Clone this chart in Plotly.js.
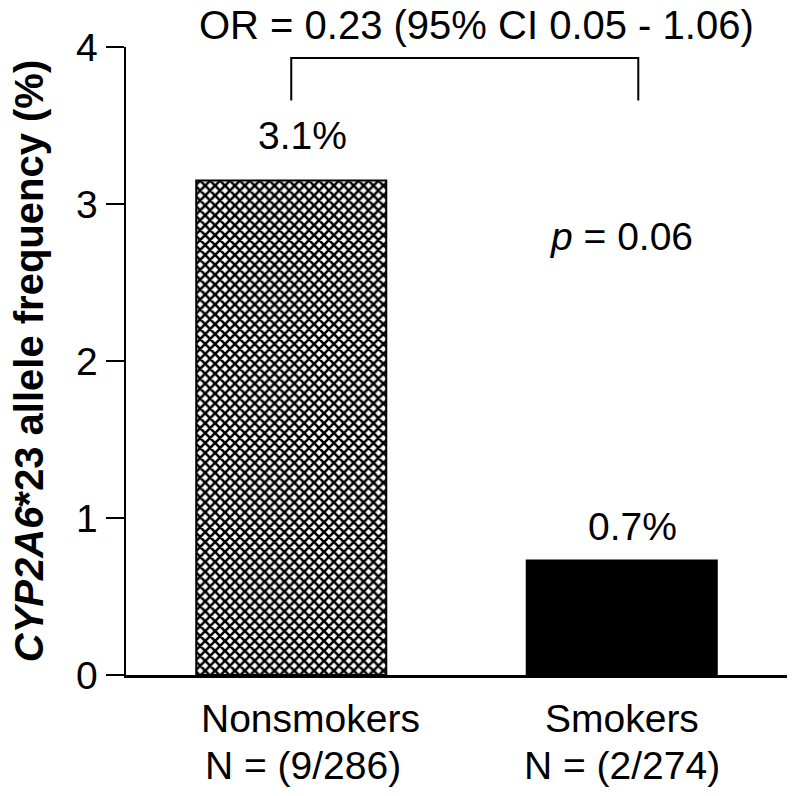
<!DOCTYPE html>
<html>
<head>
<meta charset="utf-8">
<script src="https://cdn.plot.ly/plotly-3.0.1.min.js"></script>
<style>html,body{margin:0;padding:0;background:#fff;}#chart{width:800px;height:796px;}</style>
</head>
<body>
<div id="chart"></div>
<script>
// ---- data ----
const categories = ['Nonsmokers', 'Smokers'];
const sampleLabels = ['N = (9/286)', 'N = (2/274)'];
const frequencies = [3.15, 0.73];
const yTickValues = [0, 1, 2, 3, 4];
const oddsRatioText = 'OR = 0.23 (95% CI 0.05 - 1.06)';
const pValueText = '<i>p</i> = 0.06';

// ---- styling ----
const FONT = 'Liberation Sans, Arial, sans-serif';
const FS = 39;
const labelShift1 = [19, 0];
const labelShift2 = [12, 0];
const barStyles = [
  {color: 'white', pattern: {shape: 'x', fgcolor: 'black', bgcolor: 'white', size: 7, solidity: 0.6, fillmode: 'replace'}},
  {color: 'black'}
];

const traces = categories.map((c, i) => ({
  type: 'bar',
  x: [c],
  y: [frequencies[i]],
  width: 0.575,
  marker: Object.assign({line: {color: 'black', width: 2}}, barStyles[i]),
  hoverinfo: 'skip'
}));

const annotations = [];
categories.forEach((c, i) => {
  annotations.push({xref: 'x', yref: 'y', x: c, y: frequencies[i], yanchor: 'bottom', xanchor: 'center',
    text: frequencies[i].toFixed(1) + '%', showarrow: false, xshift: 11, yshift: i === 0 ? 21 : 10,
    font: {family: FONT, size: FS, color: 'black'}});
  annotations.push({xref: 'x', yref: 'paper', x: c, y: 0, yanchor: 'top', xanchor: 'center',
    text: c, showarrow: false, xshift: labelShift1[i], yshift: -20,
    font: {family: FONT, size: FS, color: 'black'}});
  annotations.push({xref: 'x', yref: 'paper', x: c, y: 0, yanchor: 'top', xanchor: 'center',
    text: sampleLabels[i], showarrow: false, xshift: labelShift2[i], yshift: -67,
    font: {family: FONT, size: FS, color: 'black'}});
});
annotations.push({xref: 'paper', yref: 'paper', x: 0.531, y: 1.035, xanchor: 'center', yanchor: 'middle',
  text: oddsRatioText, showarrow: false, font: {family: FONT, size: 40, color: 'black'}});
annotations.push({xref: 'x', yref: 'y', x: 'Smokers', y: 2.79, xanchor: 'center', yanchor: 'middle',
  text: pValueText, showarrow: false, font: {family: FONT, size: FS, color: 'black'}});

const layout = {
  width: 800, height: 796,
  margin: {l: 126, r: 13, t: 47, b: 121},
  paper_bgcolor: 'white', plot_bgcolor: 'white',
  showlegend: false,
  barmode: 'overlay',
  font: {family: FONT, size: FS, color: 'black'},
  xaxis: {
    type: 'category', categoryarray: categories, range: [-0.5, 1.5], showline: true, linewidth: 2.5, linecolor: 'black',
    showticklabels: false, ticks: '', showgrid: false, zeroline: false, fixedrange: true
  },
  yaxis: {
    range: [0, 4], tickvals: yTickValues, ticks: 'outside', ticklen: 18, tickwidth: 2.5, tickcolor: 'black',
    showline: true, linewidth: 2.5, linecolor: 'black', showgrid: false, zeroline: false,
    tickfont: {family: FONT, size: FS, color: 'black'},
    title: {text: '<b><i>CYP2A6</i>*23 allele frequency (%)</b>', font: {family: FONT, size: 40, color: 'black'}, standoff: 20},
    automargin: false, fixedrange: true
  },
  shapes: [{
    type: 'path', xref: 'x', yref: 'y',
    path: 'M 0,3.66 L 0,3.93 L 1.05,3.93 L 1.05,3.66',
    line: {color: 'black', width: 2}
  }],
  annotations: annotations
};

Plotly.newPlot('chart', traces, layout, {displayModeBar: false, staticPlot: true});
</script>
</body>
</html>
